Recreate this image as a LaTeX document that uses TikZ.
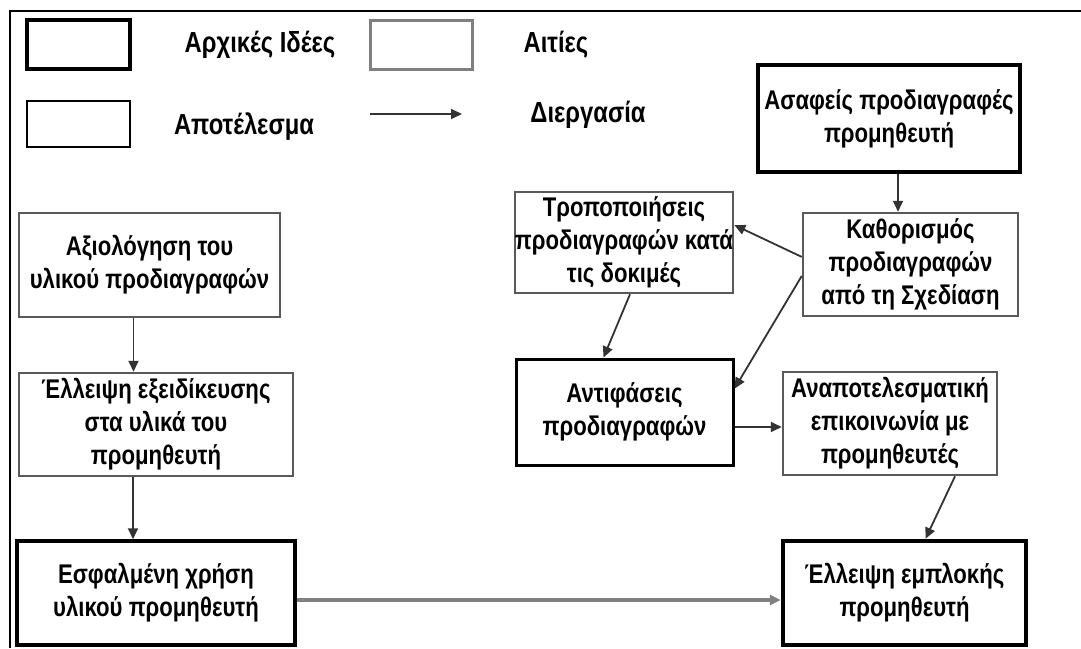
\documentclass[tikz,border=0pt]{standalone}
\usepackage{fontspec}
\newfontfamily\diagfont{Liberation Sans Bold}[FakeStretch=0.82]
\usepackage[dvipsnames,svgnames,table]{xcolor}
\usepackage{tikz}
\usetikzlibrary{arrows.meta, positioning, calc}

\begin{document}
\begin{tikzpicture}[
  x=1pt, y=-1pt,
  every node/.style={font=\diagfont\fontsize{27}{33}\selectfont},
  idea/.style={rectangle, draw=black, line width=4.5pt, align=center, inner sep=0pt},
  cause/.style={rectangle, draw=black!65, line width=2.5pt, align=center, inner sep=0pt},
  result/.style={rectangle, draw=black, line width=3pt, align=center, inner sep=0pt},
  proc/.style={draw=black!80, line width=1.8pt, -{Triangle[length=11pt, width=10pt]}},
  label/.style={anchor=center, font=\diagfont\fontsize{29}{35}\selectfont}
]
\useasboundingbox (0,0) rectangle (1081,648);

% Frame
\draw[line width=2pt] (1081,11) -- (10,11) -- (10,648);

% Legend
\node[idea, minimum width=103, minimum height=49] (legIdea) at (78.5,44.5) {};
\node[label] (txtIdea) at (260,45) {Αρχικές Ιδέες};
\node[cause, draw=black!50, line width=3pt, minimum width=102, minimum height=49] (legCause) at (421,44.5) {};
\node[label] (txtCause) at (556,45) {Αιτίες};
\node[result, line width=2.5pt, minimum width=103, minimum height=46] (legResult) at (78.5,124) {};
\node[label] (txtResult) at (244,127) {Αποτέλεσμα};
\coordinate (legA) at (370,114);
\coordinate (legB) at (462,114);
\draw[proc] (legA) -- (legB);
\node[label] (txtProc) at (588,115) {Διεργασία};

% Right branch
\node[idea, minimum width=262, minimum height=107] (asafeis) at (889,118.5) {Ασαφείς προδιαγραφές\\προμηθευτή};
\node[cause, minimum width=215, minimum height=103] (kathorismos) at (910.5,264.5) {Καθορισμός\\προδιαγραφών\\από τη Σχεδίαση};
\node[cause, minimum width=216, minimum height=101] (tropop) at (624,242.5) {Τροποποιήσεις\\προδιαγραφών κατά\\τις δοκιμές};
\node[result, minimum width=217, minimum height=106] (antifaseis) at (624.5,412) {Αντιφάσεις\\προδιαγραφών};
\node[cause, minimum width=214, minimum height=103] (anapot) at (890,423.5) {Αναποτελεσματική\\επικοινωνία με\\προμηθευτές};
\node[idea, minimum width=243, minimum height=104] (empl) at (904.5,593) {Έλλειψη εμπλοκής\\προμηθευτή};

% Left branch
\node[cause, minimum width=261, minimum height=104] (axiol) at (149.5,265) {Αξιολόγηση του\\υλικού προδιαγραφών};
\node[cause, minimum width=274, minimum height=103] (exeid) at (156,424.5) {Έλλειψη εξειδίκευσης\\στα υλικά του\\προμηθευτή};
\node[idea, line width=3.5pt, minimum width=278, minimum height=104] (esfalm) at (156,593) {Εσφαλμένη χρήση\\υλικού προμηθευτή};

% Connector ends
\coordinate (asafeisOut) at ($(asafeis.south)+(9,0)$);
\coordinate (tropopOut) at ($(tropop.south)+(6,0)$);
\coordinate (antifIn) at ($(antifaseis.north)+(-21,0)$);
\coordinate (antifOut) at ($(antifaseis.east)+(0,15)$);
\coordinate (anapotOut) at ($(anapot.south)+(65,0)$);
\coordinate (emplIn) at ($(empl.north)+(21,0)$);
\coordinate (axiolOut) at ($(axiol.south)+(-16,0)$);
\coordinate (exeidOut) at ($(exeid.south)+(-23,0)$);
\coordinate (esfalmOut) at ($(esfalm.east)+(0,7)$);

% Connectors
\draw[proc] (asafeisOut) -- (asafeisOut |- kathorismos.north);
\draw[proc] (kathorismos.176) -- (tropop.9);
\draw[proc] (kathorismos.186) -- (antifaseis.12);
\draw[proc] (tropopOut) -- (antifIn);
\draw[proc] (antifOut) -- (antifOut -| anapot.west);
\draw[proc] (anapotOut) -- (emplIn);
\draw[proc] (axiolOut) -- (axiolOut |- exeid.north);
\draw[proc] (exeidOut) -- (exeidOut |- esfalm.north);
\draw[proc, draw=black!50, line width=4.5pt] (esfalmOut) -- (esfalmOut -| empl.west);

\end{tikzpicture}
\end{document}
